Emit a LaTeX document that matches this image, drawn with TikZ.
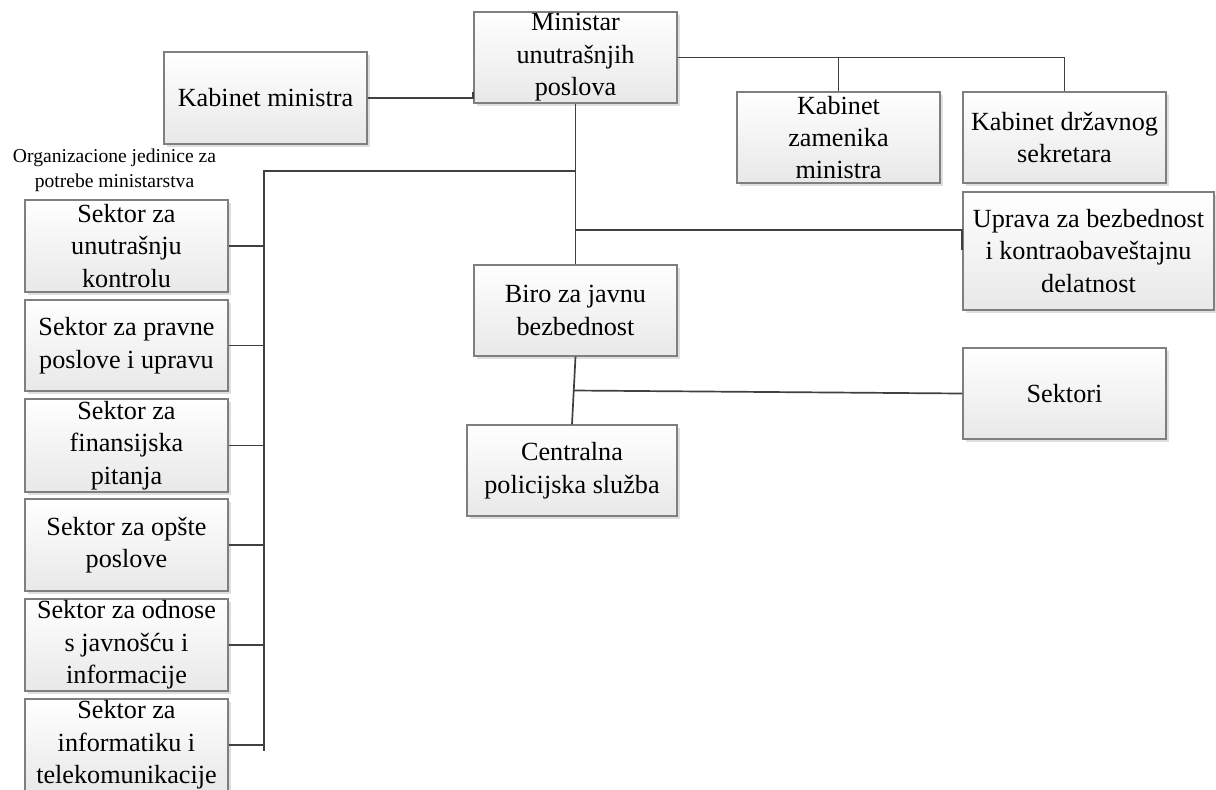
\documentclass[tikz,border=0pt]{standalone}
\usepackage{fontspec}
\setmainfont{Liberation Serif}
\usetikzlibrary{shadows,calc}
\definecolor{edge}{HTML}{7F7F7F}
\definecolor{wire}{HTML}{404040}
\tikzset{
  orgbox/.style={draw=edge, line width=0.7pt, top color=white, bottom color=black!9,
    drop shadow={shadow xshift=1.5pt, shadow yshift=-1.5pt, fill=black!25},
    align=center, inner sep=0pt, minimum width=101.5pt, minimum height=45.5pt,
    font=\fontsize{13.1pt}{16.2pt}\selectfont},
  wireline/.style={draw=wire, line width=0.85pt},
  note/.style={align=center, inner sep=0pt, font=\fontsize{9.8pt}{12.5pt}\selectfont}
}
\begin{document}
\begin{tikzpicture}[x=0.5pt, y=-0.5pt]
\useasboundingbox (0,0) rectangle (1216,789);
% top level
\node[orgbox] (min) at (575.5,57.5) {Ministar\\unutrašnjih\\poslova};
\node[orgbox, minimum height=46pt] (kab) at (265.5,98) {Kabinet ministra};
\node[orgbox] (zam) at (838.5,137.5) {Kabinet\\zamenika\\ministra};
\node[orgbox] (drz) at (1064.5,137.5) {Kabinet državnog\\sekretara};
\node[orgbox, minimum width=125.5pt, minimum height=59pt] (upr) at (1088.5,251) {Uprava za bezbednost\\i kontraobaveštajnu\\delatnost};
\node[orgbox] (biro) at (575.5,310.5) {Biro za javnu\\bezbednost};
\node[orgbox] (sekt) at (1064.5,393.5) {Sektori};
\node[orgbox, minimum width=105pt] (cen) at (572,470.5) {Centralna\\policijska služba};
% left column
\node[note] (lbl) at (114.5,170.5) {Organizacione jedinice za\\potrebe ministarstva};
\node[orgbox, minimum height=46pt] (s1) at (126.5,246) {Sektor za\\unutrašnju\\kontrolu};
\node[orgbox] (s2) at (126.5,345.5) {Sektor za pravne\\poslove i upravu};
\node[orgbox, minimum height=46.5pt] (s3) at (126.5,445.5) {Sektor za\\finansijska\\pitanja};
\node[orgbox, minimum height=46pt] (s4) at (126.5,545) {Sektor za opšte\\poslove};
\node[orgbox, minimum height=46pt] (s5) at (126.5,645) {Sektor za odnose\\s javnošću i\\informacije};
\node[orgbox, minimum height=46pt] (s6) at (126.5,745) {Sektor za\\informatiku i\\telekomunikacije};
% connectors
\coordinate (lt) at (264,171);
\coordinate (lb) at (264,751);
\coordinate (ju) at (575.5,230);
\draw[wireline] (kab.east) -- (kab.east -| min.west) -- ++(0,-6);
\draw[wireline] (min.east) -- (min.east -| drz.north) -- (drz.north);
\draw[wireline] (zam.north) -- (zam.north |- min.east);
\draw[wireline] (min.south) -- (biro.north);
\draw[wireline] (lt -| min.south) -- (lt) -- (lb);
\foreach \s in {s1,s2,s3,s4,s5,s6} \draw[wireline] (\s.east) -- (\s.east -| lt);
\draw[wireline] (ju) -- (ju -| upr.west) -- ++(0,20);
\draw[wireline] (biro.south) -- (cen.north);
\draw[wireline] ($(biro.south)!0.5!(cen.north)$) -- (sekt.west);
\end{tikzpicture}
\end{document}
